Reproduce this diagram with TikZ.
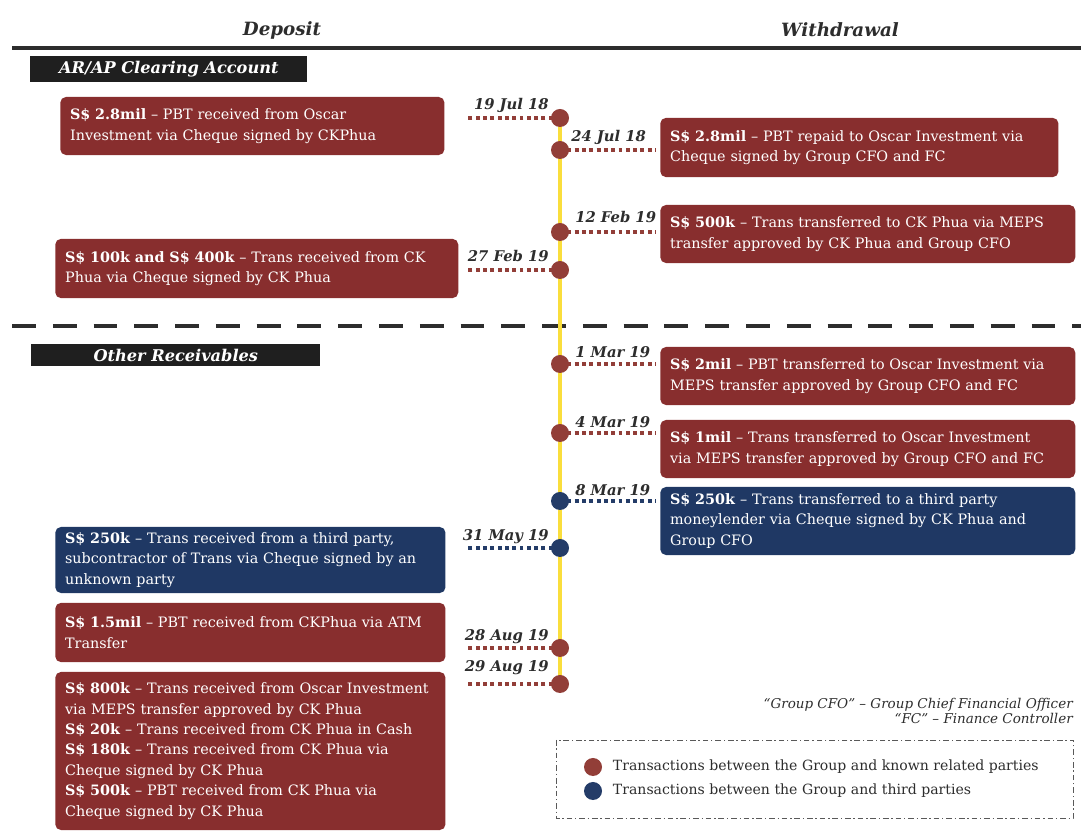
\documentclass[tikz,border=0pt]{standalone}
\usepackage{fontspec}
\setmainfont{DejaVu Serif}
\definecolor{boxred}{RGB}{136,46,46}
\definecolor{boxblue}{RGB}{31,56,100}
\definecolor{dotred}{RGB}{146,62,56}
\definecolor{dotblue}{RGB}{36,60,104}
\definecolor{lineyellow}{RGB}{250,222,60}
\definecolor{rulegray}{RGB}{45,45,45}
\tikzset{
  txnbox/.style={rounded corners=4pt, text=white, anchor=west, align=left, inner xsep=7pt,
    text width=#1, font=\fontsize{10.2}{14.5}\selectfont},
  redbox/.style={txnbox=#1, fill=boxred},
  bluebox/.style={txnbox=#1, fill=boxblue},
  secbox/.style={fill=black!88, text=white, anchor=west, minimum height=0.55cm,
    font=\fontsize{11.5}{13}\selectfont\bfseries\itshape},
  colhead/.style={text=rulegray, font=\fontsize{13}{15}\selectfont\bfseries\itshape},
  daylabel/.style={text=rulegray, inner sep=0pt, font=\fontsize{10.5}{12}\selectfont\bfseries\itshape},
  reddot/.style={circle, fill=dotred, minimum size=0.45cm, inner sep=0pt},
  bluedot/.style={circle, fill=dotblue, minimum size=0.45cm, inner sep=0pt},
  redlink/.style={draw=dotred, line width=2.8pt, dash pattern=on 2.8pt off 2.4pt},
  bluelink/.style={draw=dotblue, line width=2.8pt, dash pattern=on 2.8pt off 2.4pt},
  keytext/.style={anchor=west, text=rulegray, font=\fontsize{10}{12}\selectfont},
}
\begin{document}
\begin{tikzpicture}[x=0.025cm,y=-0.025cm]
\useasboundingbox (0,0) rectangle (1081,832);
% column heads and rules
\node[colhead] (dep) at (282,30) {Deposit};
\node[colhead] (wdr) at (840,30) {Withdrawal};
\draw[rulegray,line width=3.5pt] (12,48) -- (1081,48);
\draw[rulegray,line width=3.5pt,dash pattern=on 17pt off 12pt] (12,326) -- (1081,326);
\node[secbox,minimum width=6.925cm] (arap) at (30,69) {AR/AP Clearing Account};
\node[secbox,minimum width=7.225cm] (orec) at (31,355.5) {Other Receivables};
% timeline
\coordinate (t1) at (560,118);
\coordinate (t2) at (560,150);
\coordinate (t3) at (560,232);
\coordinate (t4) at (560,270);
\coordinate (t5) at (560,364);
\coordinate (t6) at (560,433);
\coordinate (t7) at (560,501);
\coordinate (t8) at (560,548);
\coordinate (t9) at (560,648);
\coordinate (t10) at (560,684);
\draw[lineyellow,line width=2.8pt] (t1) -- (t10);
% boxes
\node[redbox=9.11cm,minimum height=1.45cm] (b1) at (60,126) {\textbf{S\$ 2.8mil} -- PBT received from Oscar\\Investment via Cheque signed by CKPhua};
\node[redbox=9.46cm,minimum height=1.48cm] (b2) at (660,147.5) {\textbf{S\$ 2.8mil} -- PBT repaid to Oscar Investment via\\Cheque signed by Group CFO and FC};
\node[redbox=9.88cm,minimum height=1.45cm] (b3) at (660,234) {\textbf{S\$ 500k} -- Trans transferred to CK Phua via MEPS\\transfer approved by CK Phua and Group CFO};
\node[redbox=9.58cm,minimum height=1.48cm] (b4) at (55,268.5) {\textbf{S\$ 100k and S\$ 400k} -- Trans received from CK\\Phua via Cheque signed by CK Phua};
\node[redbox=9.88cm,minimum height=1.45cm] (b5) at (660,376) {\textbf{S\$ 2mil} -- PBT transferred to Oscar Investment via\\MEPS transfer approved by Group CFO and FC};
\node[redbox=9.88cm,minimum height=1.45cm] (b6) at (660,449) {\textbf{S\$ 1mil} -- Trans transferred to Oscar Investment\\via MEPS transfer approved by Group CFO and FC};
\node[bluebox=9.88cm,minimum height=1.7cm] (b7) at (660,521) {\textbf{S\$ 250k} -- Trans transferred to a third party\\moneylender via Cheque signed by CK Phua and\\Group CFO};
\node[bluebox=9.26cm,minimum height=1.65cm] (b8) at (55,560) {\textbf{S\$ 250k} -- Trans received from a third party,\\subcontractor of Trans via Cheque signed by an\\unknown party};
\node[redbox=9.26cm,minimum height=1.48cm] (b9) at (55,632.5) {\textbf{S\$ 1.5mil} -- PBT received from CKPhua via ATM\\Transfer};
\node[redbox=9.26cm,minimum height=3.95cm] (b10) at (55,751) {\textbf{S\$ 800k} -- Trans received from Oscar Investment\\via MEPS transfer approved by CK Phua\\\textbf{S\$ 20k} -- Trans received from CK Phua in Cash\\\textbf{S\$ 180k} -- Trans received from CK Phua via\\Cheque signed by CK Phua\\\textbf{S\$ 500k} -- PBT received from CK Phua via\\Cheque signed by CK Phua};
% connectors
\draw[redlink,shorten >=15pt] (t1) -- (t1 -| b1.east);
\draw[redlink,shorten >=3pt] (t2) -- (t2 -| b2.west);
\draw[redlink,shorten >=3pt] (t3) -- (t3 -| b3.west);
\draw[redlink,shorten >=5pt] (t4) -- (t4 -| b4.east);
\draw[redlink,shorten >=3pt] (t5) -- (t5 -| b5.west);
\draw[redlink,shorten >=3pt] (t6) -- (t6 -| b6.west);
\draw[bluelink,shorten >=3pt] (t7) -- (t7 -| b7.west);
\draw[bluelink,shorten >=15pt] (t8) -- (t8 -| b8.east);
\draw[redlink,shorten >=15pt] (t9) -- (t9 -| b9.east);
\draw[redlink,shorten >=15pt] (t10) -- (t10 -| b10.east);
% dots
\node[reddot] (d1) at (t1) {};
\node[reddot] (d2) at (t2) {};
\node[reddot] (d3) at (t3) {};
\node[reddot] (d4) at (t4) {};
\node[reddot] (d5) at (t5) {};
\node[reddot] (d6) at (t6) {};
\node[bluedot] (d7) at (t7) {};
\node[bluedot] (d8) at (t8) {};
\node[reddot] (d9) at (t9) {};
\node[reddot] (d10) at (t10) {};
% dates
\node[daylabel,anchor=base east] (l1) at (549,110) {19 Jul 18};
\node[daylabel,anchor=base west] (l2) at (571,142) {24 Jul 18};
\node[daylabel,anchor=base west] (l3) at (575,223) {12 Feb 19};
\node[daylabel,anchor=base east] (l4) at (549,262) {27 Feb 19};
\node[daylabel,anchor=base west] (l5) at (575,358) {1 Mar 19};
\node[daylabel,anchor=base west] (l6) at (575,428) {4 Mar 19};
\node[daylabel,anchor=base west] (l7) at (575,496) {8 Mar 19};
\node[daylabel,anchor=base east] (l8) at (549,541) {31 May 19};
\node[daylabel,anchor=base east] (l9) at (549,641) {28 Aug 19};
\node[daylabel,anchor=base east] (l10) at (549,672) {29 Aug 19};
% abbreviations and key
\node[anchor=north east,align=right,inner sep=0pt,text=rulegray,font=\fontsize{9.6}{10.8}\selectfont\itshape] (abbr) at (1073,698)
  {``Group CFO'' -- Group Chief Financial Officer\\``FC'' -- Finance Controller};
\draw[gray!70!black,line width=0.7pt,dash pattern=on 4pt off 2pt on 1pt off 2pt] (556,740) rectangle (1073,818);
\node[reddot] (k1) at (593,767) {};
\node[bluedot] (k2) at (593,791) {};
\node[keytext] (k1t) at (608,767) {Transactions between the Group and known related parties};
\node[keytext] (k2t) at (608,791) {Transactions between the Group and third parties};
\end{tikzpicture}
\end{document}
